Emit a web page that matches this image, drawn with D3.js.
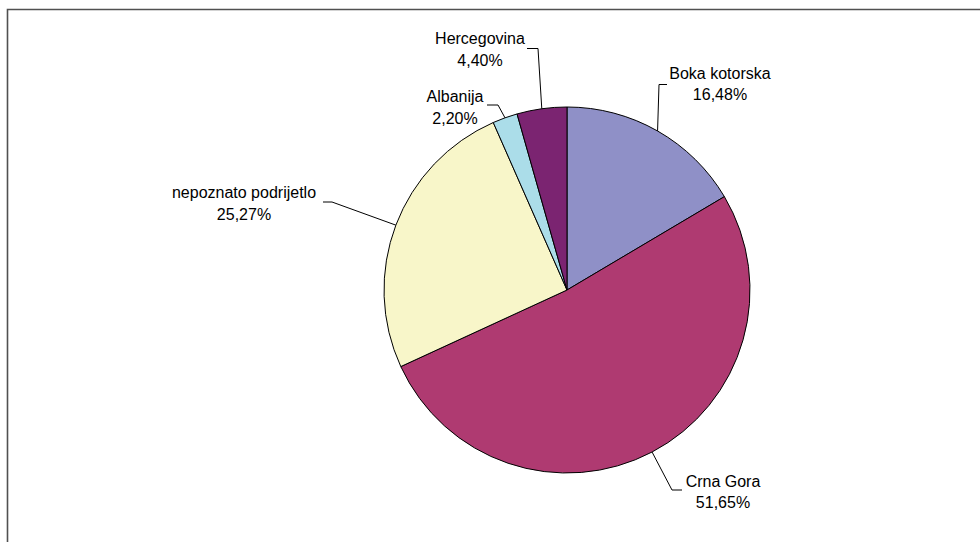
<!DOCTYPE html>
<html>
<head>
<meta charset="utf-8">
<script src="https://cdnjs.cloudflare.com/ajax/libs/d3/7.8.5/d3.min.js"></script>
<style>
  body { margin: 0; background: #fff; }
  text { font-family: Arial, "Liberation Sans", sans-serif; font-size: 16px; fill: #000; }
</style>
</head>
<body>
<script>
// data
const categories = ["Boka kotorska", "Crna Gora", "nepoznato podrijetlo", "Albanija", "Hercegovina"];
const values = [16.48, 51.65, 25.27, 2.20, 4.40];
const valueLabels = ["16,48%", "51,65%", "25,27%", "2,20%", "4,40%"];
const colors = ["#8F90C7", "#AF3A71", "#F8F6C9", "#ABDDE9", "#7B2471"];

// label boxes (centre x, first baseline) and leader elbows
const labelPos = [
  { cx: 720, y: 78.5, lx0: 667, lx1: 659, ly: 84.5 },
  { cx: 723, y: 486.5, lx0: 682, lx1: 672, ly: 490 },
  { cx: 244, y: 198, lx0: 323, lx1: 332, ly: 202 },
  { cx: 455, y: 102, lx0: 487, lx1: 498, ly: 105 },
  { cx: 480, y: 44, lx0: 527, lx1: 538, ly: 48.5 }
];

function drawPie() {
  const w = 980, h = 542;
  const cx = 567, cy = 290, r = 183;

  const svg = d3.select("body").append("svg")
    .attr("width", w)
    .attr("height", h);

  // chart frame (only top and left edges visible)
  svg.append("path")
    .attr("d", "M7.5," + h + " L7.5,9.5 L" + w + ",9.5")
    .attr("fill", "none")
    .attr("stroke", "#505050")
    .attr("stroke-width", 1.6);

  const data = categories.map((c, i) => ({ name: c, value: values[i], label: valueLabels[i], i: i }));

  const pie = d3.pie().sort(null).value(d => d.value);
  const arc = d3.arc().innerRadius(0).outerRadius(r);
  const arcs = pie(data);

  const g = svg.append("g").attr("transform", "translate(" + cx + "," + cy + ")");

  g.selectAll("path.slice")
    .data(arcs)
    .enter()
    .append("path")
    .attr("class", "slice")
    .attr("d", arc)
    .attr("fill", d => colors[d.data.i])
    .attr("stroke", "#000")
    .attr("stroke-width", 1);

  // leader lines: from label elbow to mid-point of the arc
  arcs.forEach(function(d) {
    const p = labelPos[d.data.i];
    const mid = (d.startAngle + d.endAngle) / 2;
    const ex = cx + r * Math.sin(mid);
    const ey = cy - r * Math.cos(mid);
    svg.append("polyline")
      .attr("points", [[p.lx0, p.ly], [p.lx1, p.ly], [ex, ey]].map(q => q.join(",")).join(" "))
      .attr("fill", "none")
      .attr("stroke", "#000")
      .attr("stroke-width", 1);

    const t = svg.append("text")
      .attr("text-anchor", "middle")
      .attr("x", p.cx)
      .attr("y", p.y);
    t.append("tspan").attr("x", p.cx).text(d.data.name);
    t.append("tspan").attr("x", p.cx).attr("dy", 21.5).text(d.data.label);
  });
}

drawPie();
</script>
</body>
</html>
